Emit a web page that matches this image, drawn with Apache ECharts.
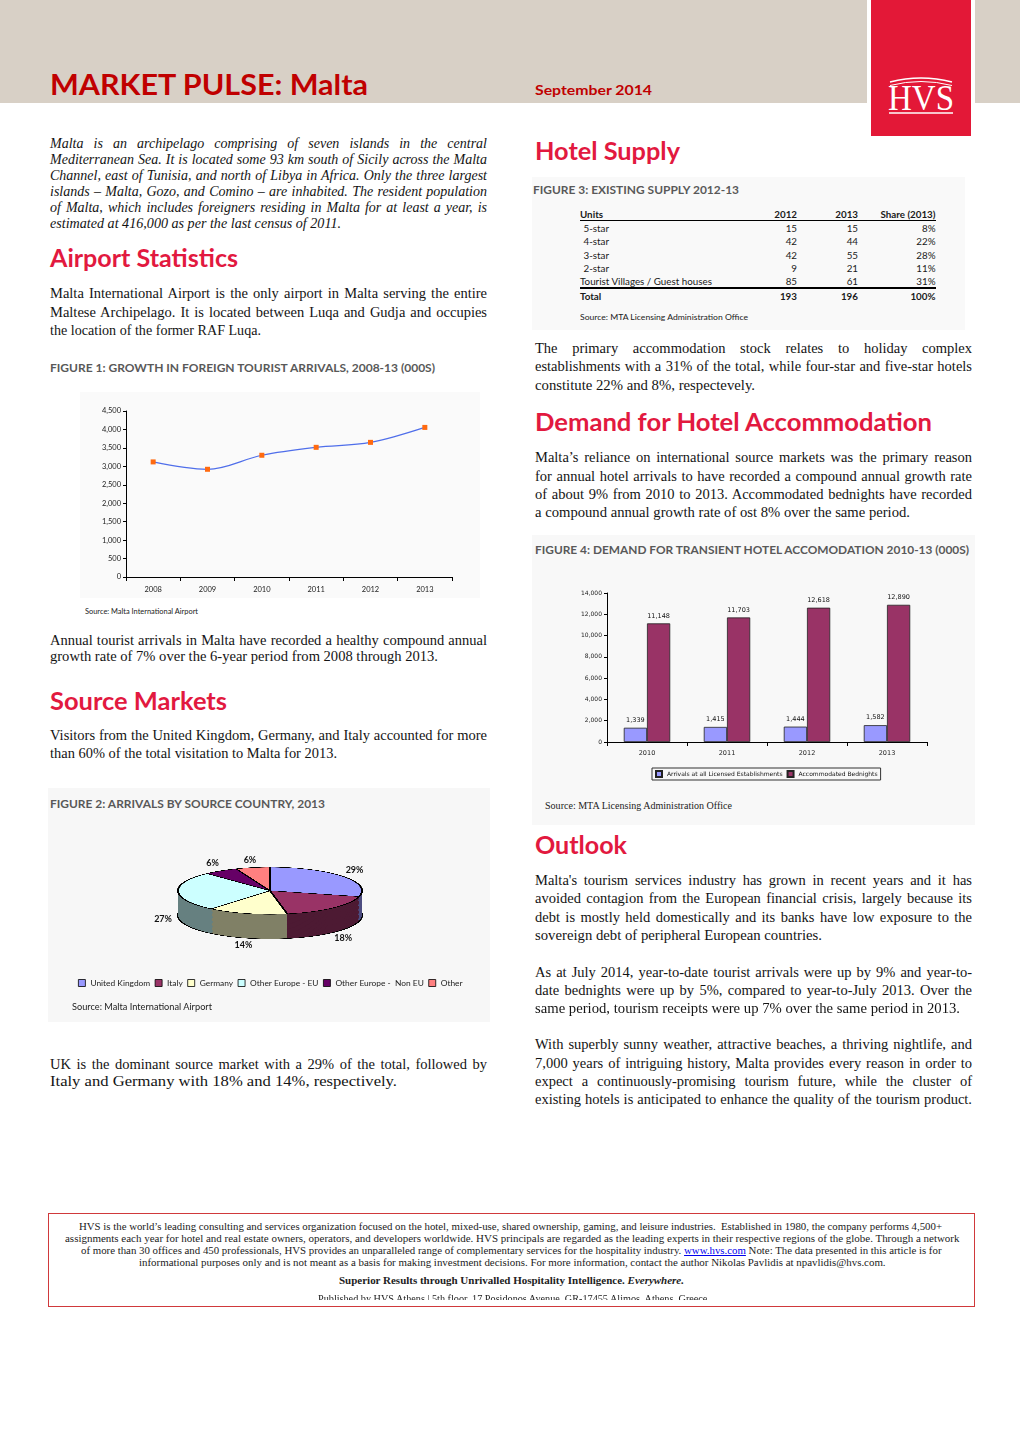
<!DOCTYPE html>
<html><head><meta charset="utf-8">
<title>Market Pulse: Malta</title>
<script src="https://cdn.jsdelivr.net/npm/echarts@6.0.0/dist/echarts.min.js"></script>
<style>
html,body{margin:0;padding:0;background:#fff}
body{position:relative;width:1020px;height:1443px;overflow:hidden;color:#141414}
.blk{position:absolute}
.t{position:absolute;white-space:nowrap;display:inline-block}
.ser{font:14.5px/20px 'Liberation Serif',serif}
.seri{font:italic 14px/20px 'Liberation Serif',serif}
.h{font:bold 24px/30px Lato,sans-serif;color:#E2193F}
.ttl{font:bold 29px/36px Lato,sans-serif;color:#C00000}
.date{font:bold 14px/20px Lato,sans-serif;color:#C00000}
.cap{font:bold 11px/14px Lato,sans-serif;color:#595959}
.src{font:7px/10px Lato,sans-serif;color:#222}
.src2{font:9px/12px Lato,sans-serif;color:#222}
.srcs{font:9.5px/12px 'Liberation Serif',serif;color:#222}
.tb{font:9.8px/12px Lato,sans-serif;color:#1a1a1a}
.tbb{font:bold 9.8px/12px Lato,sans-serif;color:#1a1a1a}
.ft{font:10px/12px 'Liberation Serif',serif;color:#222}
.logo{font:35px/40px 'Liberation Serif',serif;color:#fff}
a.lk{color:#0000EE;text-decoration:underline}
</style></head>
<body>
<!-- header -->
<div class="blk" style="left:0;top:0;width:1020px;height:103px;background:#D8D0C6"></div>
<div class="blk" style="left:867px;top:0;width:108px;height:104px;background:#fff"></div>
<div class="blk" style="left:871px;top:0;width:100px;height:136px;background:#E31837"></div>
<svg class="blk" style="left:871px;top:0" width="100" height="136">
  <path d="M19 82 Q50 74 81 82" stroke="#fff" stroke-width="1.3" fill="none"/>
  <path d="M19 85.5 Q50 77.5 81 85.5" stroke="#fff" stroke-width="1" fill="none"/>
  <path d="M18 113 L82 113" stroke="#fff" stroke-width="1.4"/>
</svg>
<div class="t logo" data-x="888" data-c="98.5" data-w="66">HVS</div>
<div class="t ttl" data-x="50" data-c="84.5" data-w="318">MARKET PULSE: Malta</div>
<div class="t date" data-x="535" data-c="90" data-w="117">September 2014</div>

<!-- panels -->
<div class="blk" style="left:80px;top:392px;width:400px;height:206px;background:#FAFAFA"></div>
<div class="blk" style="left:48px;top:788px;width:442px;height:234px;background:#F7F7F7"></div>
<div class="blk" style="left:532px;top:177px;width:433px;height:153px;background:#F9F9F9"></div>
<div class="blk" style="left:532px;top:535px;width:443px;height:290px;background:#F8F8F8"></div>

<!-- left column -->
<div class="t seri j" data-x="50" data-c="143" data-w="437">Malta is an archipelago comprising of seven islands in the central</div>
<div class="t seri j" data-x="50" data-c="159" data-w="437">Mediterranean Sea. It is located some 93 km south of Sicily across the Malta</div>
<div class="t seri j" data-x="50" data-c="175" data-w="437">Channel, east of Tunisia, and north of Libya in Africa. Only the three largest</div>
<div class="t seri j" data-x="50" data-c="191" data-w="437">islands – Malta, Gozo, and Comino – are inhabited. The resident population</div>
<div class="t seri j" data-x="50" data-c="207" data-w="437">of Malta, which includes foreigners residing in Malta for at least a year, is</div>
<div class="t seri" data-x="50" data-c="223" data-w="291">estimated at 416,000 as per the last census of 2011.</div>

<div class="t h" data-x="50" data-c="258.5" data-w="188">Airport Statistics</div>
<div class="t ser j" data-x="50" data-c="293.3" data-w="437">Malta International Airport is the only airport in Malta serving the entire</div>
<div class="t ser j" data-x="50" data-c="311.7" data-w="437">Maltese Archipelago. It is located between Luqa and Gudja and occupies</div>
<div class="t ser" data-x="50" data-c="330" data-w="211">the location of the former RAF Luqa.</div>

<div class="t cap" data-x="50" data-c="368.3" data-w="385">FIGURE 1: GROWTH IN FOREIGN TOURIST ARRIVALS, 2008-13 (000S)</div>
<div id="c1" class="blk" style="left:80px;top:392px;width:400px;height:206px"></div>
<div class="t src" data-x="85" data-c="611" data-w="113">Source: Malta International Airport</div>

<div class="t ser j" data-x="50" data-c="640" data-w="437">Annual tourist arrivals in Malta have recorded a healthy compound annual</div>
<div class="t ser" data-x="50" data-c="655.7" data-w="388">growth rate of 7% over the 6-year period from 2008 through 2013.</div>

<div class="t h" data-x="50" data-c="701" data-w="177">Source Markets</div>
<div class="t ser j" data-x="50" data-c="735" data-w="437">Visitors from the United Kingdom, Germany, and Italy accounted for more</div>
<div class="t ser" data-x="50" data-c="753.3" data-w="287">than 60% of the total visitation to Malta for 2013.</div>

<div class="t cap" data-x="50" data-c="804.3" data-w="275">FIGURE 2: ARRIVALS BY SOURCE COUNTRY, 2013</div>
<div id="pieGeo" class="blk" style="left:45px;top:850px;width:450px;height:360px;transform:scaleY(0.256);transform-origin:0 0"></div>
<div id="pieLab" class="blk" style="left:45px;top:790px;width:450px;height:240px"></div>
<div class="t src2" data-x="71.7" data-c="1006.7" data-w="140">Source: Malta International Airport</div>

<div class="t ser j" data-x="50" data-c="1064" data-w="437">UK is the dominant source market with a 29% of the total, followed by</div>
<div class="t ser" data-x="50" data-c="1080.7" data-w="347">Italy and Germany with 18% and 14%, respectively.</div>

<!-- right column -->
<div class="t h" data-x="535" data-c="151.7" data-w="145">Hotel Supply</div>
<div class="t cap" data-x="533" data-c="190" data-w="206">FIGURE 3: EXISTING SUPPLY 2012-13</div>
<div id="tbl"></div>
<div class="blk" style="left:580px;top:219.5px;width:356px;height:1.5px;background:#000"></div>
<div class="blk" style="left:580px;top:287px;width:356px;height:2px;background:#000"></div>
<div class="t src" data-x="580" data-c="316.7" data-w="168">Source: MTA Licensing Administration Office</div>

<div class="t ser j" data-x="535" data-c="347.7" data-w="437">The primary accommodation stock relates to holiday complex</div>
<div class="t ser j" data-x="535" data-c="366" data-w="437">establishments with a 31% of the total, while four-star and five-star hotels</div>
<div class="t ser" data-x="535" data-c="385" data-w="220">constitute 22% and 8%, respectevely.</div>

<div class="t h" data-x="535" data-c="422.3" data-w="397">Demand for Hotel Accommodation</div>
<div class="t ser j" data-x="535" data-c="457.3" data-w="437">Malta’s reliance on international source markets was the primary reason</div>
<div class="t ser j" data-x="535" data-c="475.7" data-w="437">for annual hotel arrivals to have recorded a compound annual growth rate</div>
<div class="t ser j" data-x="535" data-c="494" data-w="437">of about 9% from 2010 to 2013. Accommodated bednights have recorded</div>
<div class="t ser" data-x="535" data-c="512.3" data-w="375">a compound annual growth rate of ost 8% over the same period.</div>

<div class="t cap" data-x="535" data-c="550" data-w="434">FIGURE 4: DEMAND FOR TRANSIENT HOTEL ACCOMODATION 2010-13 (000S)</div>
<div id="c4" class="blk" style="left:535px;top:575px;width:440px;height:215px"></div>
<div class="t srcs" data-x="545" data-c="805" data-w="187">Source: MTA Licensing Administration Office</div>

<div class="t h" data-x="535" data-c="845.7" data-w="92">Outlook</div>
<div class="t ser j" data-x="535" data-c="880" data-w="437">Malta's tourism services industry has grown in recent years and it has</div>
<div class="t ser j" data-x="535" data-c="898.3" data-w="437">avoided contagion from the European financial crisis, largely because its</div>
<div class="t ser j" data-x="535" data-c="917" data-w="437">debt is mostly held domestically and its banks have low exposure to the</div>
<div class="t ser" data-x="535" data-c="935.3" data-w="287">sovereign debt of peripheral European countries.</div>

<div class="t ser j" data-x="535" data-c="971.7" data-w="437">As at July 2014, year-to-date tourist arrivals were up by 9% and year-to-</div>
<div class="t ser j" data-x="535" data-c="990" data-w="437">date bednights were up by 5%, compared to year-to-July 2013. Over the</div>
<div class="t ser" data-x="535" data-c="1008.3" data-w="425">same period, tourism receipts were up 7% over the same period in 2013.</div>

<div class="t ser j" data-x="535" data-c="1044" data-w="437">With superbly sunny weather, attractive beaches, a thriving nightlife, and</div>
<div class="t ser j" data-x="535" data-c="1062.7" data-w="437">7,000 years of intriguing history, Malta provides every reason in order to</div>
<div class="t ser j" data-x="535" data-c="1081" data-w="437">expect a continuously-promising tourism future, while the cluster of</div>
<div class="t ser j" data-x="535" data-c="1099.3" data-w="437">existing hotels is anticipated to enhance the quality of the tourism product.</div>

<!-- footer -->
<div class="blk" style="left:48px;top:1213px;width:925px;height:92px;border:1px solid #D0393B"></div>
<div class="t ft" data-x="79" data-c="1226.7" data-w="863">HVS is the world’s leading consulting and services organization focused on the hotel, mixed-use, shared ownership, gaming, and leisure industries.&nbsp; Established in 1980, the company performs 4,500+</div>
<div class="t ft" data-x="64.7" data-c="1239" data-w="894.5">assignments each year for hotel and real estate owners, operators, and developers worldwide. HVS principals are regarded as the leading experts in their respective regions of the globe. Through a network</div>
<div class="t ft" data-x="80.8" data-c="1251.3" data-w="860.5">of more than 30 offices and 450 professionals, HVS provides an unparalleled range of complementary services for the hospitality industry. <a class="lk">www.hvs.com</a> Note: The data presented in this article is for</div>
<div class="t ft" data-x="139.2" data-c="1263.3" data-w="746.6">informational purposes only and is not meant as a basis for making investment decisions. For more information, contact the author Nikolas Pavlidis at npavlidis@hvs.com.</div>
<div class="t ft" data-x="339" data-c="1281" data-w="345"><b>Superior Results through Unrivalled Hospitality Intelligence. <i>Everywhere.</i></b></div>
<div class="blk" style="left:0;top:0;width:1020px;height:1299.5px;overflow:hidden">
  <div class="t ft" data-x="317.5" data-c="1298.5" data-w="389.4">Published by HVS Athens | 5th floor, 17 Posidonos Avenue, GR-17455 Alimos, Athens, Greece</div>
</div>

<script>
// ---------------- DATA ----------------
const arrivalYears = ['2008', '2009', '2010', '2011', '2012', '2013'];
const touristArrivals = [3120, 2920, 3300, 3515, 3650, 4055];

const sourceMarkets = ['United Kingdom', 'Italy', 'Germany', 'Other Europe - EU', 'Other Europe -  Non EU', 'Other'];
const sourceShares = [29, 18, 14, 27, 6, 6];

const supplyHeader = ['Units', '2012', '2013', 'Share (2013)'];
const supplyUnits = ['5-star', '4-star', '3-star', '2-star', 'Tourist Villages / Guest houses'];
const supply2012 = [15, 42, 42, 9, 85];
const supply2013 = [15, 44, 55, 21, 61];
const supplyShare2013 = ['8%', '22%', '28%', '11%', '31%'];
const supplyTotal = ['Total', '193', '196', '100%'];

const demandYears = ['2010', '2011', '2012', '2013'];
const hotelArrivals = [1339, 1415, 1444, 1582];
const bednights = [11148, 11703, 12618, 12890];
const demandSeriesNames = ['Arrivals at all Licensed Establishments', 'Accommodated Bednights'];

// ---------------- STYLE ----------------
const pieTopColors = ['#9999FF', '#993366', '#FFFFCC', '#CCFFFF', '#660066', '#FF8080'];
const pieSideColors = ['#4D4D80', '#4D1A33', '#808066', '#668080', '#330033', '#804040'];
const fmt = v => String(v).replace(/\B(?=(\d{3})+(?!\d))/g, ',');

// ---------------- TABLE ----------------
(function buildTable() {
  const host = document.getElementById('tbl');
  const rightEdges = [797, 858, 935.5];
  function cell(txt, cls, c, x, r) {
    const d = document.createElement('div');
    d.className = 't ' + cls;
    d.textContent = txt;
    d.dataset.c = c;
    if (x != null) d.dataset.x = x;
    if (r != null) d.dataset.r = r;
    host.appendChild(d);
  }
  cell(supplyHeader[0], 'tbb', 214.3, 580);
  for (let k = 1; k < 4; k++) cell(supplyHeader[k], 'tbb', 214.3, null, rightEdges[k - 1]);
  supplyUnits.forEach((u, i) => {
    const c = 228.3 + i * 13.35;
    cell(u, 'tb', c, i < 4 ? 583.5 : 580);
    cell(String(supply2012[i]), 'tb', c, null, rightEdges[0]);
    cell(String(supply2013[i]), 'tb', c, null, rightEdges[1]);
    cell(supplyShare2013[i], 'tb', c, null, rightEdges[2]);
  });
  cell(supplyTotal[0], 'tbb', 296.7, 580);
  for (let k = 1; k < 4; k++) cell(supplyTotal[k], 'tbb', 296.7, null, rightEdges[k - 1]);
})();

// ---------------- TEXT PLACEMENT ----------------
(function placeText() {
  const ctx = document.createElement('canvas').getContext('2d');
  document.querySelectorAll('.t').forEach(el => {
    const cs = getComputedStyle(el);
    ctx.font = cs.fontStyle + ' ' + cs.fontWeight + ' ' + cs.fontSize + ' ' + cs.fontFamily;
    const m = ctx.measureText('H');
    const capH = m.actualBoundingBoxAscent;
    const fA = m.fontBoundingBoxAscent, fD = m.fontBoundingBoxDescent;
    const L = parseFloat(cs.lineHeight);
    const base = (L - (fA + fD)) / 2 + fA;
    el.style.top = (parseFloat(el.dataset.c) - (base - capH / 2)) + 'px';
    const nat = el.getBoundingClientRect().width;
    if (el.dataset.r) {
      el.style.left = (parseFloat(el.dataset.r) - nat) + 'px';
      return;
    }
    el.style.left = el.dataset.x + 'px';
    if (el.dataset.w) {
      const w = parseFloat(el.dataset.w);
      el.style.transformOrigin = '0 50%';
      if (el.classList.contains('j') && nat <= w) {
        el.style.display = 'block';
        el.style.whiteSpace = 'normal';
        el.style.width = w + 'px';
        el.style.textAlign = 'justify';
        el.style.textAlignLast = 'justify';
      } else {
        el.style.transform = 'scaleX(' + (w / nat) + ')';
      }
    }
  });
})();

// ---------------- FIGURE 1 ----------------
const c1 = echarts.init(document.getElementById('c1'));
c1.setOption({
  animation: false,
  textStyle: { fontFamily: 'Lato' },
  grid: { left: 46, right: 28, top: 19, bottom: 21 },
  xAxis: {
    type: 'category', data: arrivalYears,
    axisLine: { lineStyle: { color: '#000', width: 1 } },
    axisTick: { show: true, length: 4, lineStyle: { color: '#000' } },
    axisLabel: { fontSize: 7.5, color: '#222', margin: 9 }
  },
  yAxis: {
    type: 'value', min: 0, max: 4500, interval: 500,
    axisLine: { show: true, lineStyle: { color: '#000', width: 1 } },
    axisTick: { show: true, length: 3, lineStyle: { color: '#000' } },
    splitLine: { show: false },
    axisLabel: { fontSize: 7.5, color: '#222', margin: 5, formatter: v => fmt(v) }
  },
  series: [{
    type: 'line', data: touristArrivals, smooth: 0.35, silent: true,
    symbol: 'rect', symbolSize: 5,
    lineStyle: { color: '#4F6EEA', width: 1.2 },
    itemStyle: { color: '#FF6A10' }
  }]
});

// ---------------- FIGURE 2 (3D-look pie) ----------------
const K = 0.256;            // vertical squash of the pie container
const DEPTH = 24.7;         // side wall height on screen
const DEPTH_U = DEPTH / K;  // same, in unsquashed chart units
const LAYERS = 30;
const geo = echarts.init(document.getElementById('pieGeo'), null, { devicePixelRatio: 3 });
const geoSeries = [];
for (let i = 0; i <= LAYERS; i++) {
  const isTop = i === LAYERS, isBottom = i === 0;
  geoSeries.push({
    type: 'pie', silent: true, z: 2 + i,
    center: [225, 159 + DEPTH_U * (LAYERS - i) / LAYERS],
    radius: 92, startAngle: 90, clockwise: true,
    label: { show: false }, labelLine: { show: false },
    emphasis: { disabled: true },
    itemStyle: {
      borderColor: (isTop || isBottom) ? '#000' : 'rgba(0,0,0,0)',
      borderWidth: (isTop || isBottom) ? 2 : 0
    },
    data: sourceMarkets.map((n, j) => ({
      name: n, value: sourceShares[j],
      itemStyle: { color: isTop ? pieTopColors[j] : pieSideColors[j] }
    }))
  });
}
geo.setOption({ animation: false, series: geoSeries });

const PCX = 225, PCY = 100.7;
const pieLab = echarts.init(document.getElementById('pieLab'));
pieLab.setOption({
  animation: false,
  legend: {
    left: 33, top: 189, padding: 0, itemWidth: 7, itemHeight: 7, itemGap: 4.5,
    selectedMode: false,
    textStyle: { fontFamily: 'Lato', fontSize: 8.4, color: '#222' },
    itemStyle: { borderColor: '#000', borderWidth: 0.8 },
    data: sourceMarkets.map((n, i) => ({ name: n, icon: 'rect', itemStyle: { color: pieTopColors[i], borderColor: '#000', borderWidth: 0.8 } }))
  },
  series: [{
    type: 'pie', silent: true, center: [PCX, PCY], radius: 92, startAngle: 90, clockwise: true,
    avoidLabelOverlap: false,
    itemStyle: { color: 'rgba(0,0,0,0)' },
    data: sourceMarkets.map((n, i) => ({ name: n, value: sourceShares[i] })),
    label: {
      show: true, position: 'outside', formatter: '{c}%', distanceToLabelLine: 0,
      fontFamily: 'Lato', fontWeight: 'bold', fontSize: 9, color: '#111'
    },
    labelLine: { show: false, length: 15, length2: 0 },
    labelLayout: function (p) {
      const r = p.labelRect;
      const lx = r.x + r.width / 2, ly = r.y + r.height / 2;
      const ny = PCY + (ly - PCY) * K + (ly > PCY ? DEPTH + 3 : -4);
      const dx = lx > PCX ? -r.width / 2 : r.width / 2;
      return { dx: dx, dy: ny - ly };
    }
  }]
});

// ---------------- FIGURE 4 ----------------
const c4 = echarts.init(document.getElementById('c4'));
const barLabel = { show: true, position: 'top', distance: 4, fontSize: 6.5, color: '#111', fontFamily: 'DejaVu Sans', formatter: p => fmt(p.value) };
c4.setOption({
  animation: false,
  textStyle: { fontFamily: 'DejaVu Sans' },
  grid: { left: 72, right: 48, top: 18, bottom: 48 },
  legend: {
    left: 117, top: 193, padding: [2, 3], itemWidth: 6, itemHeight: 6, itemGap: 4,
    selectedMode: false,
    borderColor: '#333', borderWidth: 1,
    textStyle: { fontSize: 6, color: '#111' },
    data: demandSeriesNames.map(n => ({ name: n, icon: 'rect' }))
  },
  xAxis: {
    type: 'category', data: demandYears,
    axisLine: { lineStyle: { color: '#000', width: 1 } },
    axisTick: { show: true, length: 4, lineStyle: { color: '#000' } },
    axisLabel: { fontSize: 6.5, color: '#222', margin: 8 }
  },
  yAxis: {
    type: 'value', min: 0, max: 14000, interval: 2000,
    axisLine: { show: true, lineStyle: { color: '#000', width: 1 } },
    axisTick: { show: true, length: 3, lineStyle: { color: '#000' } },
    splitLine: { show: false },
    axisLabel: { fontSize: 6, color: '#222', margin: 5, formatter: v => fmt(v) }
  },
  series: [
    { name: demandSeriesNames[0], type: 'bar', data: hotelArrivals, barGap: '0%', barCategoryGap: '42%', silent: true,
      itemStyle: { color: '#9999FF', borderColor: '#222', borderWidth: 0.8 }, label: barLabel },
    { name: demandSeriesNames[1], type: 'bar', data: bednights, barGap: '0%', barCategoryGap: '42%', silent: true,
      itemStyle: { color: '#993366', borderColor: '#222', borderWidth: 0.8 }, label: barLabel }
  ]
});
</script>
</body></html>
